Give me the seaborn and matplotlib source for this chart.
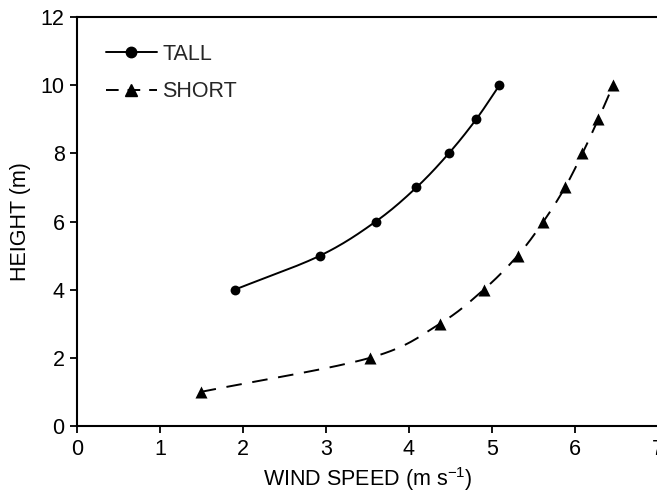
import numpy as np
import pandas as pd
import matplotlib
matplotlib.use("Agg")
import matplotlib.pyplot as plt
from matplotlib.lines import Line2D
import seaborn as sns

# Wind speed profiles above two canopies
tall_speed = [1.90, 2.93, 3.60, 4.09, 4.48, 4.81, 5.09]
tall_height = [4, 5, 6, 7, 8, 9, 10]
short_speed = [1.49, 3.53, 4.37, 4.90, 5.31, 5.62, 5.88, 6.09, 6.28, 6.46]
short_height = [1, 2, 3, 4, 5, 6, 7, 8, 9, 10]

x_ticks = [0, 1, 2, 3, 4, 5, 6, 7]
y_ticks = [0, 2, 4, 6, 8, 10, 12]


def smooth(xs, ys, sx=83.0, sy=34.1, n=30):
    """Catmull-Rom curve through the points, computed in a display-like space."""
    p = np.column_stack([np.asarray(xs) * sx, np.asarray(ys) * sy])
    p = np.vstack([2 * p[0] - p[1], p, 2 * p[-1] - p[-2]])
    out = []
    t = np.linspace(0, 1, n, endpoint=False)[:, None]
    for i in range(1, len(p) - 2):
        p0, p1, p2, p3 = p[i - 1], p[i], p[i + 1], p[i + 2]
        seg = 0.5 * ((2 * p1) + (-p0 + p2) * t + (2 * p0 - 5 * p1 + 4 * p2 - p3) * t ** 2
                     + (-p0 + 3 * p1 - 3 * p2 + p3) * t ** 3)
        out.append(seg)
    out.append(p[-2][None, :])
    out = np.vstack(out)
    return out[:, 0] / sx, out[:, 1] / sy


sns.set_theme(style="ticks")
plt.rcParams["font.family"] = ["Liberation Sans", "DejaVu Sans"]
plt.rcParams["mathtext.default"] = "regular"

FS = 15.5

fig = plt.figure(figsize=(6.57, 4.93), dpi=100)
ax = fig.add_axes([0.1172, 0.1359, 0.8843, 0.8296])

tx, ty = smooth(tall_speed, tall_height)
sx_, sy_ = smooth(short_speed, short_height)
curves = pd.concat([
    pd.DataFrame({"speed": tx, "height": ty, "canopy": "TALL"}),
    pd.DataFrame({"speed": sx_, "height": sy_, "canopy": "SHORT"}),
])
pts = pd.concat([
    pd.DataFrame({"speed": tall_speed, "height": tall_height, "canopy": "TALL"}),
    pd.DataFrame({"speed": short_speed, "height": short_height, "canopy": "SHORT"}),
])

lw = 1.4
dash = (0, (8, 5.5))
sns.lineplot(data=curves[curves.canopy == "TALL"], x="speed", y="height", sort=False,
             color="black", lw=lw, ax=ax, legend=False, estimator=None)
sns.lineplot(data=curves[curves.canopy == "SHORT"], x="speed", y="height", sort=False,
             color="black", lw=lw, ax=ax, legend=False, estimator=None,
             linestyle=dash)
sns.scatterplot(data=pts[pts.canopy == "TALL"], x="speed", y="height", marker="o",
                s=50, color="black", edgecolor="black", linewidth=0, ax=ax, zorder=3)
sns.scatterplot(data=pts[pts.canopy == "SHORT"], x="speed", y="height", marker="^",
                s=75, color="black", edgecolor="black", linewidth=0, ax=ax, zorder=3)

ax.set_xlim(0, 7)
ax.set_ylim(0, 12)
ax.set_xticks(x_ticks)
ax.set_yticks(y_ticks)
ax.set_xticklabels([str(v) for v in x_ticks])
ax.set_yticklabels([str(v) for v in y_ticks])
ax.tick_params(axis="both", direction="out", length=5, width=1.3, labelsize=FS,
               colors="black", pad=4)
for side in ["left", "bottom", "top"]:
    ax.spines[side].set_visible(True)
    ax.spines[side].set_linewidth(1.5)
    ax.spines[side].set_color("black")
ax.spines["right"].set_visible(False)

ax.set_xlabel("WIND SPEED (m s$^{-1}$)", fontsize=FS, color="black", labelpad=4)
ax.set_ylabel("HEIGHT (m)", fontsize=FS, color="black", labelpad=7)

handles = [
    Line2D([], [], color="black", lw=lw, marker="o", markersize=7.5),
    Line2D([], [], color="black", lw=lw, marker="^", markersize=8.5,
           linestyle=(0, (6.5, 4.6))),
]
ax.legend(handles, ["TALL", "SHORT"], loc="upper left", bbox_to_anchor=(0.05, 0.935),
          borderaxespad=0, borderpad=0, frameon=False, fontsize=FS, numpoints=1,
          handlelength=2.35, handletextpad=0.25, labelspacing=0.78)

fig.savefig("out.png", dpi=100)
